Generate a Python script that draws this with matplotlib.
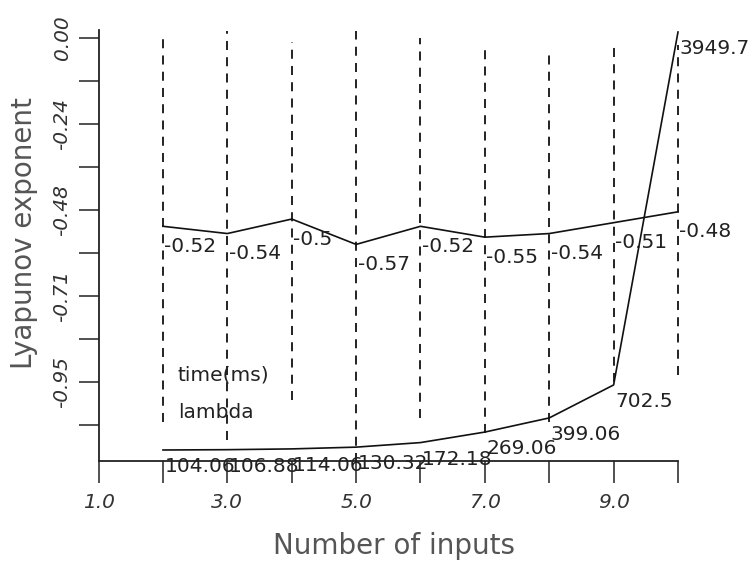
import matplotlib
matplotlib.use("Agg")
import matplotlib.pyplot as plt
from matplotlib.ticker import FixedLocator


inputs = [2, 3, 4, 5, 6, 7, 8, 9, 10]
lambdas = [-0.52, -0.54, -0.50, -0.57, -0.52, -0.55, -0.54, -0.51, -0.48]
times_ms = [104.06, 106.88, 114.06, 130.32, 172.18, 269.06, 399.06, 702.5, 3949.7]

# dashed ranges drawn at each input (in lyapunov units)
range_top = [0.01, 0.02, -0.01, 0.02, 0.0, -0.02, -0.03, -0.02, -0.02]
range_bottom = [-1.06, -1.11, -1.00, -1.17, -1.05, -1.09, -1.06, -0.95, -0.93]

y_major = [0.0, -0.2375, -0.475, -0.7125, -0.95]
y_minor = [-0.11875, -0.35625, -0.59375, -0.83125, -1.06875]
y_labels = ["0.00", "-0.24", "-0.48", "-0.71", "-0.95"]
x_major = [1, 3, 5, 7, 9]
x_minor = [2, 4, 6, 8, 10]
x_labels = ["1.0", "3.0", "5.0", "7.0", "9.0"]
legend_names = ["time(ms)", "lambda"]


def setup_axes(ax):
    ax.set_xlim(1, 10)
    ax.set_ylim(-1.168, 0.022)
    for side in ("top", "right"):
        ax.spines[side].set_visible(False)
    for side in ("left", "bottom"):
        ax.spines[side].set_linewidth(1.3)
        ax.spines[side].set_color("#222222")

    ax.xaxis.set_major_locator(FixedLocator(x_major))
    ax.xaxis.set_minor_locator(FixedLocator(x_minor))
    ax.set_xticklabels(x_labels, fontstyle="italic", fontsize=14.5, color="#333333")
    ax.yaxis.set_major_locator(FixedLocator(y_major))
    ax.yaxis.set_minor_locator(FixedLocator(y_minor))
    ax.set_yticklabels(y_labels, fontstyle="italic", fontsize=14.5, color="#333333",
                       rotation=90, va="center")

    ax.tick_params(axis="x", which="both", direction="out", length=16, width=1.1,
                   color="#222222", pad=7)
    ax.tick_params(axis="y", which="both", direction="out", length=14.5, width=1.1,
                   color="#222222", pad=5)

    ax.set_xlabel("Number of inputs", fontsize=20, color="#555555")
    ax.set_ylabel("Lyapunov exponent", fontsize=20, color="#555555")
    ax.xaxis.set_label_coords(0.51, -0.164)
    ax.yaxis.set_label_coords(-0.104, 0.53)


def main():
    fig = plt.figure(figsize=(7.51, 5.61), dpi=100)
    ax = fig.add_axes([0.1313, 0.1783, 0.7715, 0.7682])
    ax2 = ax.twinx()
    ax2.set_position(ax.get_position())

    setup_axes(ax)

    ax.vlines(inputs, range_bottom, range_top, colors="#111111",
              linestyles=(0, (5, 4)), linewidth=1.3, clip_on=False)

    lam_line, = ax.plot(inputs, lambdas, color="#111111", linewidth=1.2, clip_on=False)
    for x, v in zip(inputs, lambdas):
        ax.annotate(f"{v:g}", (x, v), xytext=(1, -14.5), textcoords="offset points",
                    ha="left", va="center", fontsize=14.5, color="#222222",
                    annotation_clip=False)

    ax2.set_ylim(3, 3968)
    ax2.axis("off")
    time_line, = ax2.plot(inputs, times_ms, color="#111111", linewidth=1.2, clip_on=False)
    for x, t in zip(inputs, times_ms):
        ax2.annotate(f"{t:g}", (x, t), xytext=(1, -12), textcoords="offset points",
                     ha="left", va="center", fontsize=14.5, color="#222222",
                     annotation_clip=False)

    ax.legend([time_line, lam_line], legend_names, loc="upper left",
              bbox_to_anchor=(0.137, 0.222), frameon=False, handlelength=0,
              handletextpad=0, borderpad=0, borderaxespad=0, labelspacing=0.95,
              fontsize=14.5, labelcolor="#222222")

    fig.savefig("out.png", dpi=100)


if __name__ == "__main__":
    main()
